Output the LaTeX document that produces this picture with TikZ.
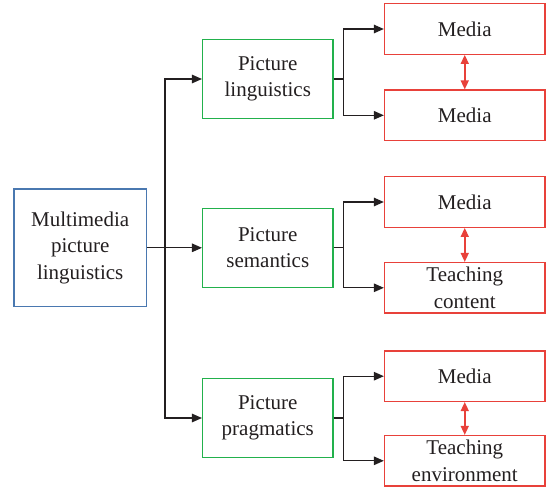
\documentclass[tikz,border=0pt]{standalone}
\usepackage{fontspec}
\setmainfont{Liberation Serif}
\usetikzlibrary{arrows.meta}
\definecolor{bluebox}{HTML}{4A78B0}
\definecolor{greenbox}{HTML}{22B14C}
\definecolor{redbox}{HTML}{E8413A}
\definecolor{txt}{HTML}{231F20}
\tikzset{
  base/.style={draw, line width=1.3pt, align=center, inner sep=0pt, text=txt,
    font=\fontsize{21}{26.5}\selectfont},
  mainbox/.style={base, draw=bluebox, minimum width=132.5pt, minimum height=117.7pt},
  greenbox/.style={base, draw=greenbox, minimum width=130.4pt, minimum height=79.2pt},
  redbox/.style={base, draw=redbox, minimum width=160.5pt, minimum height=50.5pt},
  arr/.style={draw=txt, line width=1.3pt, -{Triangle[length=10pt,width=8.5pt]}},
  rarr/.style={draw=redbox, line width=1.5pt, {Triangle[length=9pt,width=8pt]}-{Triangle[length=9pt,width=8pt]}}
}
\begin{document}
\begin{tikzpicture}[x=1pt,y=-1pt]
\useasboundingbox (0,0) rectangle (547,490);
\node[mainbox] (m) at (80.2,247.8) {Multimedia\\picture\\linguistics};
\node[greenbox] (g1) at (267.8,79) {Picture\\linguistics};
\node[greenbox] (g2) at (267.8,247.8) {Picture\\semantics};
\node[greenbox] (g3) at (267.8,418) {Picture\\pragmatics};
\node[redbox] (r1) at (464.75,29) {Media};
\node[redbox] (r2) at (464.75,115.3) {Media};
\node[redbox] (r3) at (464.75,202) {Media};
\node[redbox] (r4) at (464.75,287.8) {Teaching\\content};
\node[redbox] (r5) at (464.75,376.2) {Media};
\node[redbox] (r6) at (464.75,460.8) {Teaching\\environment};
\coordinate (t) at (165,247.8);
\draw[arr] (m.east) -- (g2.west);
\draw[arr] (t) |- (g1.west);
\draw[arr] (t) |- (g3.west);
\foreach \g/\a/\b in {g1/r1/r2, g2/r3/r4, g3/r5/r6}{
  \draw[arr] (\g.east) -- ++(10,0) |- (\a.west);
  \draw[arr] (\g.east) -- ++(10,0) |- (\b.west);
}
\draw[rarr] (r1.south) -- (r2.north);
\draw[rarr] (r3.south) -- (r4.north);
\draw[rarr] (r5.south) -- (r6.north);
\end{tikzpicture}
\end{document}
